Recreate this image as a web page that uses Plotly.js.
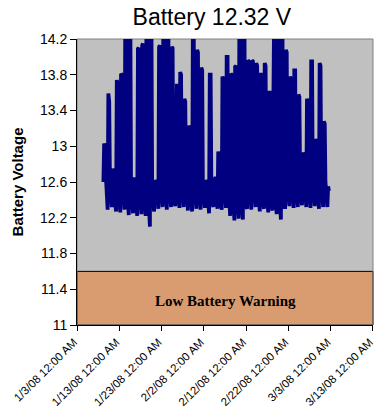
<!DOCTYPE html>
<html><head><meta charset="utf-8">
<script src="https://cdn.plot.ly/plotly-3.0.1.min.js"></script>
<style>html,body{margin:0;padding:0;background:#fff}#chart{width:375px;height:412px}</style>
</head><body><div id="chart"></div>
<script>
const titleText = 'Battery 12.32 V';
const yTitle = 'Battery Voltage';
const warningText = 'Low Battery Warning';
const warningLow = 11;
const warningHigh = 11.6;

const days = ['2008-01-09','2008-01-10','2008-01-11','2008-01-12','2008-01-13','2008-01-14','2008-01-15','2008-01-16','2008-01-17','2008-01-18',
  '2008-01-19','2008-01-20','2008-01-21','2008-01-22','2008-01-23','2008-01-24','2008-01-25','2008-01-26','2008-01-27','2008-01-28',
  '2008-01-29','2008-01-30','2008-01-31','2008-02-01','2008-02-02','2008-02-03','2008-02-04','2008-02-05','2008-02-06','2008-02-07',
  '2008-02-08','2008-02-09','2008-02-10','2008-02-11','2008-02-12','2008-02-13','2008-02-14','2008-02-15','2008-02-16','2008-02-17',
  '2008-02-18','2008-02-19','2008-02-20','2008-02-21','2008-02-22','2008-02-23','2008-02-24','2008-02-25','2008-02-26','2008-02-27',
  '2008-02-28','2008-02-29','2008-03-01','2008-03-02'];
// 06:00 readings
const dawnLow = [12.6,12.29,12.32,12.27,12.26,12.29,12.23,12.25,12.22,12.24,
  12.22,12.1,12.27,12.3,12.32,12.29,12.32,12.33,12.31,12.32,
  12.28,12.27,12.3,12.29,12.31,12.25,12.32,12.3,12.29,12.31,
  12.22,12.17,12.19,12.18,12.3,12.29,12.32,12.27,12.3,12.26,
  12.28,12.24,12.18,12.32,12.33,12.31,12.32,12.34,12.32,12.31,
  12.33,12.3,12.32,12.32];
// 10:00 readings
const morningPeak = [13.03,13.59,12.75,13.74,13.81,14.4,14.4,12.65,14.09,14.13,
  14.3,14.3,12.6,14.11,14.4,14.35,14.11,13.68,13.83,13.53,
  13.23,14.35,14.08,13.88,12.6,13.8,12.65,12.94,13.78,14.0,
  13.81,13.89,14.4,14.4,13.96,13.96,13.93,13.8,13.93,13.6,
  14.4,14.4,14.35,14.08,13.78,13.85,13.58,12.93,13.53,13.95,
  13.08,13.93,13.28,12.55];
// 15:00 readings
const afternoonPeak = [13.0,13.5,12.7,13.7,13.8,14.4,14.4,12.6,14.1,14.15,
  14.3,14.3,12.6,14.13,14.4,14.35,14.1,13.7,13.8,13.5,
  13.2,14.3,14.05,13.85,12.6,13.8,12.6,12.9,13.75,14.0,
  13.8,13.9,14.4,14.4,13.95,13.95,13.9,13.8,13.9,13.6,
  14.4,14.4,14.3,14.05,13.75,13.85,13.55,12.9,13.5,13.95,
  13.05,13.9,13.25,12.5];
// 19:00 readings
const eveningLevel = [12.7,12.62,12.68,12.55,12.6,12.58,12.52,12.6,12.55,12.5,
  12.57,12.48,12.62,12.58,12.6,12.55,12.62,12.57,12.6,12.65,
  12.55,12.6,12.58,12.55,12.62,12.58,12.66,12.7,12.6,12.58,
  12.55,12.5,12.52,12.55,12.6,12.62,12.58,12.65,12.6,12.66,
  12.55,12.52,12.48,12.6,12.62,12.57,12.65,12.7,12.6,12.58,
  12.62,12.6,12.6,12.45];
// 23:00 readings
const nightLevel = [12.45,12.42,12.4,12.38,12.4,12.36,12.35,12.38,12.34,12.36,
  12.32,12.35,12.4,12.42,12.4,12.43,12.4,12.44,12.42,12.4,
  12.38,12.4,12.42,12.4,12.43,12.38,12.42,12.4,12.41,12.4,
  12.34,12.3,12.32,12.33,12.4,12.42,12.4,12.38,12.4,12.37,
  12.38,12.35,12.32,12.42,12.44,12.42,12.43,12.45,12.42,12.41,
  12.43,12.4,12.42,12.4];

const tickDates = ['2008-01-03','2008-01-13','2008-01-23','2008-02-02','2008-02-12','2008-02-22','2008-03-03','2008-03-13'];
const tickLabels = ['1/3/08 12:00 AM','1/13/08 12:00 AM','1/23/08 12:00 AM','2/2/08 12:00 AM','2/12/08 12:00 AM','2/22/08 12:00 AM','3/3/08 12:00 AM','3/13/08 12:00 AM'];
const yTicks = [11,11.4,11.8,12.2,12.6,13,13.4,13.8,14.2];

const xs = [], ys = [];
days.forEach((d, i) => {
  xs.push(d + ' 06:00'); ys.push(dawnLow[i]);
  xs.push(d + ' 10:00'); ys.push(morningPeak[i]);
  xs.push(d + ' 15:00'); ys.push(afternoonPeak[i]);
  if (i < days.length - 1) {
    xs.push(d + ' 19:00'); ys.push(eveningLevel[i]);
    xs.push(d + ' 23:00'); ys.push(nightLevel[i]);
  }
});

const font = 'Arial, "Liberation Sans", sans-serif';
const trace = {x: xs, y: ys, type: 'scatter', mode: 'lines',
  line: {color: '#000080', width: 3.8}, hoverinfo: 'skip'};

const layout = {
  width: 375, height: 412,
  margin: {l: 77, r: 2, t: 39, b: 87},
  paper_bgcolor: '#ffffff', plot_bgcolor: '#C0C0C0',
  showlegend: false,
  title: {text: titleText, font: {family: font, size: 23, color: '#000'},
    x: 0.565, xanchor: 'center', xref: 'container', y: 0.958, yanchor: 'middle', yref: 'container'},
  xaxis: {type: 'date', range: ['2008-01-03', '2008-03-13 01:00'],
    tickmode: 'array', tickvals: tickDates, ticktext: tickLabels, tickangle: -45,
    ticklabeloverflow: 'allow', ticklabelshift: -3,
    ticks: 'outside', ticklen: 5, tickcolor: '#000', showline: true, linecolor: '#000', linewidth: 1,
    showgrid: false, zeroline: false, tickfont: {family: font, size: 11.5, color: '#000'}},
  yaxis: {range: [11, 14.2], tickmode: 'array', tickvals: yTicks,
    ticks: 'outside', ticklen: 6, tickcolor: '#000', showline: true, linecolor: '#000', linewidth: 1,
    showgrid: false, zeroline: false, tickfont: {family: font, size: 14, color: '#000'},
    title: {text: '<b>' + yTitle + '</b>', font: {family: font, size: 15, color: '#000'}, standoff: 12}},
  shapes: [
    {type: 'rect', xref: 'paper', yref: 'y', x0: 0, x1: 1, y0: warningLow, y1: warningHigh,
      fillcolor: '#D99B70', line: {color: '#000', width: 1}, layer: 'below'},
    {type: 'rect', xref: 'paper', yref: 'paper', x0: 0, x1: 1, y0: 0, y1: 1,
      line: {color: '#808080', width: 1}, layer: 'below'}
  ],
  annotations: [
    {text: '<b>' + warningText + '</b>', xref: 'paper', yref: 'y', x: 0.5, y: 11.27,
      showarrow: false, font: {family: '"Liberation Serif", "Times New Roman", serif', size: 15, color: '#000'}}
  ]
};

Plotly.newPlot('chart', [trace], layout, {staticPlot: true, displayModeBar: false});
</script></body></html>
